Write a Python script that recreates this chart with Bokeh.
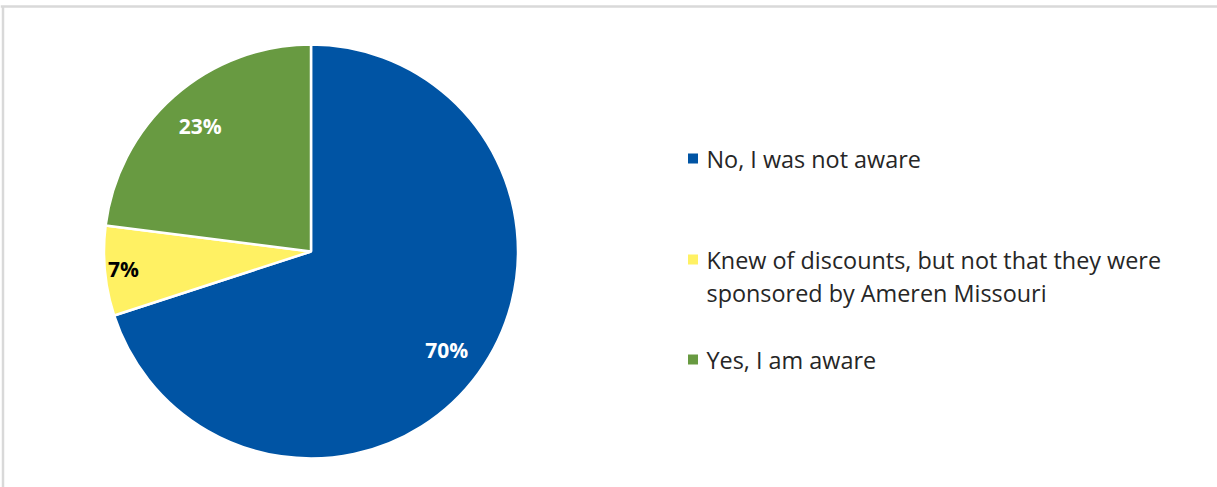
import math
from bokeh.plotting import figure
from bokeh.models import Range1d
from bokeh.core.properties import value
from bokeh.embed import file_html
from bokeh.resources import INLINE

# ---- data ----
categories = ["No, I was not aware",
              "Knew of discounts, but not that they were\nsponsored by Ameren Missouri",
              "Yes, I am aware"]
shares = [70, 7, 23]
pct_labels = ["70%", "7%", "23%"]
colors = ["#0054A4", "#FFF163", "#689A41"]
label_colors = ["white", "black", "white"]

W, H = 1217, 487
p = figure(width=W, height=H, output_backend="svg", toolbar_location=None,
           x_range=Range1d(0, W), y_range=Range1d(0, H), min_border=0)
p.axis.visible = False
p.grid.visible = False
p.outline_line_color = None
p.background_fill_color = "white"
p.border_fill_color = "white"

# frame (top and left edges visible)
p.segment(x0=[0, 2.5], y0=[H - 6, H - 6], x1=[W, 2.5], y1=[H - 6, 0],
          line_color="#D9D9D9", line_width=2.5)

cx, cy, R = 310.5, H - 251, 207
total = sum(shares)
start = math.pi / 2
label_r = [0.81, 0.91, 0.81]
for i, v in enumerate(shares):
    sweep = 2 * math.pi * v / total
    end = start - sweep
    p.wedge(x=cx, y=cy, radius=R, start_angle=start, end_angle=end,
            direction="clock", fill_color=colors[i], line_color="white",
            line_width=2.5)
    mid = start - sweep / 2
    p.text(x=[cx + label_r[i] * R * math.cos(mid)],
           y=[cy + label_r[i] * R * math.sin(mid)],
           text=[pct_labels[i]], text_align="center", text_baseline="middle",
           text_font=value("Open Sans"), text_font_style="bold",
           text_font_size="21px", text_color=label_colors[i])
    start = end

# legend
leg_y = [H - 158, H - 259, H - 359]
line_gap = 33
for i, name in enumerate(categories):
    p.rect(x=[692.5], y=[leg_y[i]], width=10, height=10,
           fill_color=colors[i], line_color=None)
    parts = name.split("\n")
    p.text(x=[706] * len(parts),
           y=[leg_y[i] - k * line_gap for k in range(len(parts))],
           text=parts, text_align="left",
           text_baseline="middle", text_font=value("Open Sans"),
           text_font_size="23.4px", text_color="#262626")

open("out.html", "w").write(file_html(p, INLINE))
